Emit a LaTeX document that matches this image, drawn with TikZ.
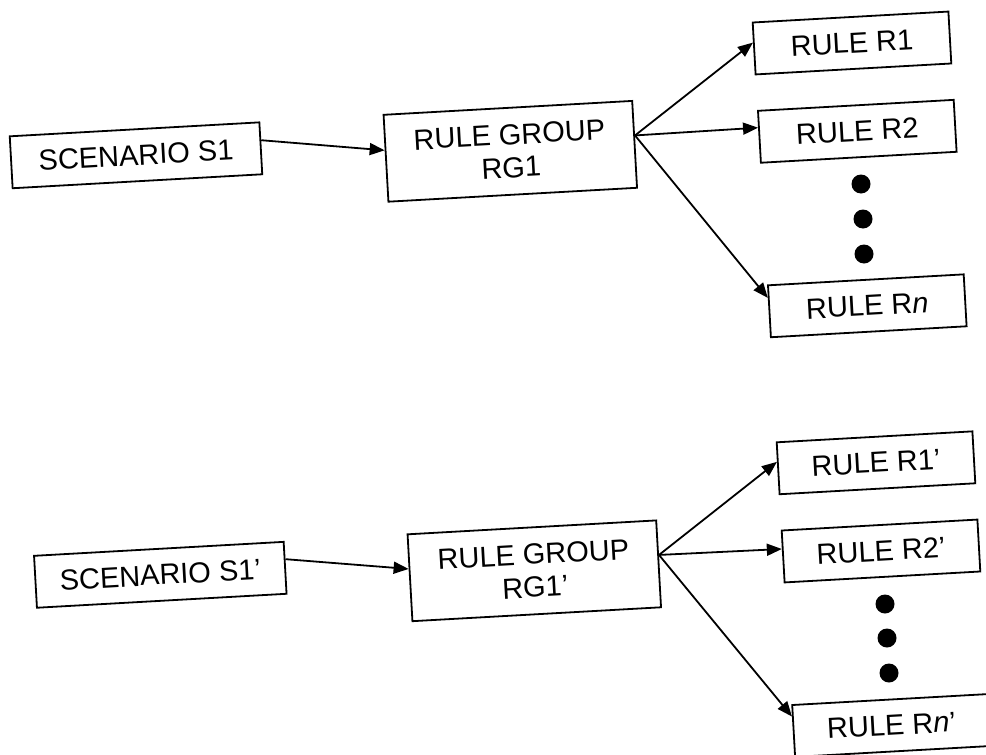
\documentclass[tikz,border=0pt]{standalone}
\usepackage{fontspec}
\setmainfont{Liberation Sans}
\usetikzlibrary{arrows.meta,calc}
\begin{document}
\begin{tikzpicture}[x=1pt,y=-1pt,
  box/.style={draw, line width=1.8pt, rotate=3.2, inner sep=0pt, align=center,
              font=\fontsize{29}{33}\selectfont},
  scen/.style={box, minimum width=250pt, minimum height=52pt},
  grp/.style={box, minimum width=249pt, minimum height=87pt},
  rulebox/.style={box, minimum width=196pt, minimum height=52pt},
  bullet/.style={circle, fill, inner sep=0pt, minimum size=19pt},
  link/.style={line width=1.8pt, -{Triangle[length=15pt,width=12pt]}}]
\useasboundingbox (0,0) rectangle (986,755);
\clip (0,0) rectangle (986,755);

% upper chain
\node[scen]    (s1)  at (136,155.3) {SCENARIO S1};
\node[grp]     (rg1) at (510.3,151.3) {RULE GROUP\\RG1};
\node[rulebox] (r1)  at (852,43) {RULE R1};
\node[rulebox] (r2)  at (857.3,131.3) {RULE R2};
\node[rulebox] (rn)  at (867.3,305.8) {RULE R\textit{n}};
\node[bullet]  (d1)  at (861,184) {};
\node[bullet]  (d2)  at (863,219) {};
\node[bullet]  (d3)  at (864,254) {};

\coordinate (rg1out) at ($(rg1.north east)!0.4!(rg1.south east)$);
\draw[link] ($(s1.north east)!0.35!(s1.south east)$) -- ($(rg1.north west)!0.41!(rg1.south west)$);
\draw[link] (rg1out) -- ($(r1.north west)!0.39!(r1.south west)$);
\draw[link] (rg1out) -- ($(r2.north west)!0.33!(r2.south west)$);
\draw[link] (rg1out) -- ($(rn.north west)!0.25!(rn.south west)$);

% lower chain
\node[scen]    (s1p)  at (160.3,574.8) {SCENARIO S1’};
\node[grp]     (rg1p) at (534.3,570.8) {RULE GROUP\\RG1’};
\node[rulebox] (r1p)  at (876,462.8) {RULE R1’};
\node[rulebox] (r2p)  at (881,551) {RULE R2’};
\node[rulebox] (rnp)  at (891.5,725.5) {RULE R\textit{n}’};
\node[bullet]  (d1p)  at (885,604) {};
\node[bullet]  (d2p)  at (887,638) {};
\node[bullet]  (d3p)  at (889,673) {};

\coordinate (rg1pout) at ($(rg1p.north east)!0.4!(rg1p.south east)$);
\draw[link] ($(s1p.north east)!0.34!(s1p.south east)$) -- ($(rg1p.north west)!0.4!(rg1p.south west)$);
\draw[link] (rg1pout) -- ($(r1p.north west)!0.38!(r1p.south west)$);
\draw[link] (rg1pout) -- ($(r2p.north west)!0.36!(r2p.south west)$);
\draw[link] (rg1pout) -- ($(rnp.north west)!0.23!(rnp.south west)$);
\end{tikzpicture}
\end{document}
